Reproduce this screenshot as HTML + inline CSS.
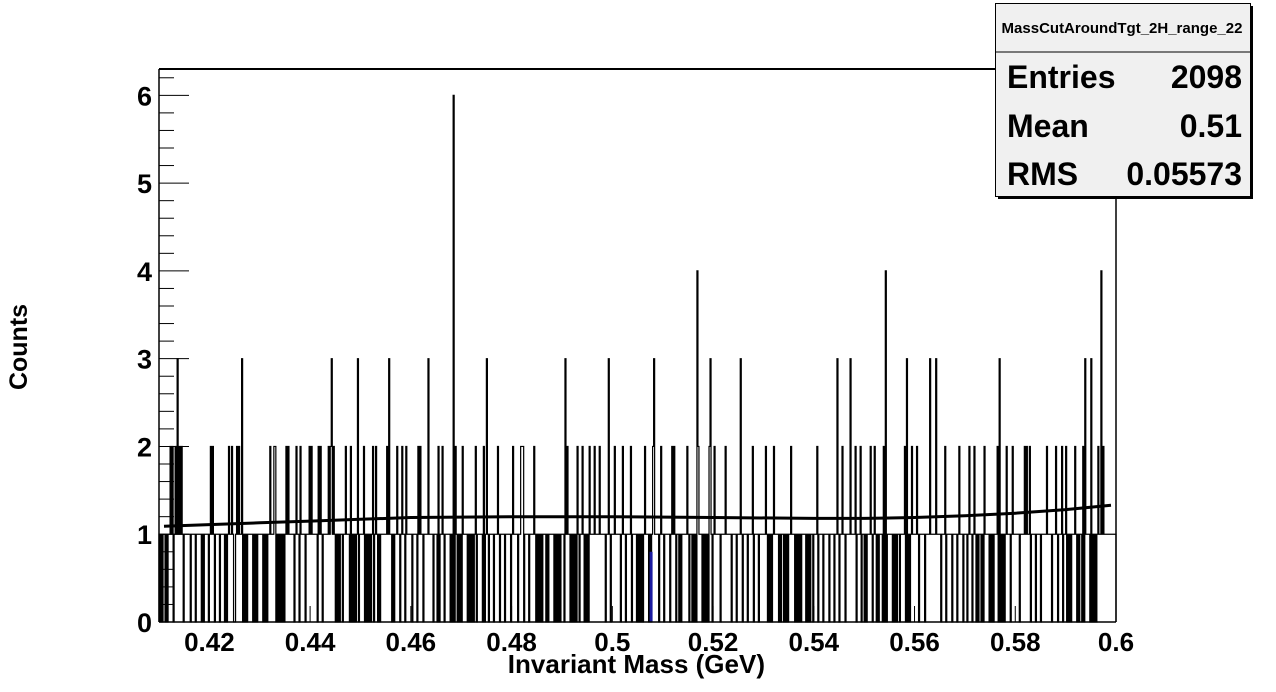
<!DOCTYPE html>
<html><head><meta charset="utf-8"><style>
html,body{margin:0;padding:0;background:#fff;}
svg{display:block;font-family:"Liberation Sans",Arial,sans-serif;font-weight:bold;}
</style></head><body>
<svg id="chart" width="1276" height="692" viewBox="0 0 1276 692" xmlns="http://www.w3.org/2000/svg">
<rect width="1276" height="692" fill="#fff"/>
<g id="hist"></g>
<g id="fit"></g>
<g id="axes"></g>
<text x="765" y="673" font-size="26" text-anchor="end">Invariant Mass (GeV)</text>
<text transform="translate(27,347) rotate(-90)" font-size="25" text-anchor="middle">Counts</text>
<g>
<rect x="998" y="6" width="255" height="193" fill="#000"/>
<rect x="995.5" y="3.5" width="255" height="193" fill="#f0f0f0" stroke="#000" stroke-width="1"/>
<line x1="995" y1="52" x2="1250" y2="52" stroke="#000" stroke-width="1"/>
<text x="1122" y="33" font-size="15" text-anchor="middle">MassCutAroundTgt_2H_range_22</text>
<text x="1007" y="88" font-size="32">Entries</text>
<text x="1242" y="88" font-size="32" text-anchor="end">2098</text>
<text x="1007" y="137" font-size="32">Mean</text>
<text x="1242" y="137" font-size="32" text-anchor="end">0.51</text>
<text x="1007" y="185" font-size="32">RMS</text>
<text x="1242" y="185" font-size="32" text-anchor="end">0.05573</text>
</g>
</svg>
<script>
const xMin = 0.41, xMax = 0.6, yMin = 0, yMax = 6.3;
const binWidth = 0.0002;
const baseCounts = [
"10101101011111010101011101111110111101111101011110",
"11111011110111101011111100101011101010111110101011",
"11101010110111110101010101010111110111101111101111",
"10111110111101111101101010101011011111101010101101",
"11110101010110111010111111011110101111101111011111",
"10111101111101111011110111010110101111101010110101",
"01111101010101101111101011101111011111011110111110",
"10111101111101111011110101010101110101111101010101",
"11011111010101011011110101011111011110111110111101",
"11011111011110111110111101010101011101010111110101",
"10111110101010110101111101011010101111101010101110",
"10111110111101111101111011111011110111110111101111",
"11110101010111101011010101111110101010111101010110",
"11110111101111101111011110111110111101111101111011",
"01011111010101011101010111110101011011111010101011",
"11110111110111101111101111011110111110111101111101",
"11011110101010110101111101010111101010101111101011",
"11110111101111101111011110111110111101111101111011",
"1010101111101011010111110101010111"
].join("");
const spikeMass = [0.4684,0.5168,0.5543,0.5972,
0.4136,0.4265,0.4443,0.4495,0.4557,0.4634,0.4751,0.4906,0.4993,0.5083,0.5196,0.5254,0.5256,0.5446,0.5472,0.5585,0.5631,0.5642,0.5769,0.5938,0.5950];
const spikeCount = [6,4,4,4,3,3,3,3,3,3,3,3,3,3,3,3,3,3,3,3,3,3,3,3,3];
const twoMass = [0.4122,0.4126,0.4132,0.4140,0.4144,0.4203,0.4207,0.4239,0.4245,0.4255,0.4259,0.4322,0.4328,0.4332,0.4352,0.4356,0.4372,0.4380,0.4398,0.4402,0.4416,0.4420,0.4436,0.4440,0.4447,0.4470,0.4480,0.4507,0.4525,0.4531,0.4552,0.4574,0.4582,0.4590,0.4614,0.4618,0.4654,0.4662,0.4689,0.4703,0.4729,0.4745,0.4773,0.4803,0.4819,0.4821,0.4823,0.4845,0.4910,0.4930,0.4940,0.4955,0.4965,0.4975,0.5005,0.5021,0.5037,0.5065,0.5081,0.5097,0.5118,0.5124,0.5148,0.5170,0.5192,0.5202,0.5226,0.5254,0.5278,0.5304,0.5320,0.5354,0.5408,0.5448,0.5456,0.5482,0.5492,0.5512,0.5520,0.5539,0.5581,0.5595,0.5605,0.5631,0.5661,0.5690,0.5710,0.5720,0.5740,0.5764,0.5769,0.5783,0.5795,0.5819,0.5823,0.5829,0.5863,0.5881,0.5893,0.5901,0.5918,0.5934,0.5964,0.5974];
const fitX = [0.411,0.42,0.43,0.44,0.45,0.46,0.48,0.50,0.52,0.54,0.55,0.56,0.57,0.58,0.59,0.599];
const fitY = [1.09,1.11,1.13,1.15,1.17,1.19,1.20,1.20,1.19,1.18,1.18,1.19,1.21,1.24,1.28,1.33];
const xTicks = [0.42,0.44,0.46,0.48,0.5,0.52,0.54,0.56,0.58,0.6];
const xTickLabels = ["0.42","0.44","0.46","0.48","0.5","0.52","0.54","0.56","0.58","0.6"];
const yTicks = [0,1,2,3,4,5,6];

const L=159,R=1116,T=69,B=622;
const sx = v => L + (v - xMin) / (xMax - xMin) * (R - L);
const sy = v => B - (v - yMin) / (yMax - yMin) * (B - T);
const NS="http://www.w3.org/2000/svg";
function mk(tag, attrs, parent){const e=document.createElementNS(NS,tag);for(const k in attrs)e.setAttribute(k,attrs[k]);parent.appendChild(e);return e;}

const nBins = Math.round((xMax - xMin) / binWidth);
const counts = [];
for(let i=0;i<nBins;i++) counts.push(i<baseCounts.length?+baseCounts[i]:1);
twoMass.forEach(m=>{const i=Math.floor((m-xMin)/binWidth); if(i>=0&&i<nBins) counts[i]=Math.max(counts[i],2);});
spikeMass.forEach((m,k)=>{const i=Math.floor((m-xMin)/binWidth); if(i>=0&&i<nBins) counts[i]=spikeCount[k];});

const hg=document.getElementById('hist');
let d="M"+sx(xMin)+","+sy(0);
for(let i=0;i<nBins;i++){
  const x0=sx(xMin+i*binWidth), x1=sx(xMin+(i+1)*binWidth), y=sy(counts[i]);
  d+=" L"+x0.toFixed(2)+","+y.toFixed(2)+" L"+x1.toFixed(2)+","+y.toFixed(2);
}
d+=" L"+sx(xMax)+","+sy(0);
const hp=mk('path',{d:d,fill:'none',stroke:'#000','stroke-width':1.2},hg);


const blue=mk('rect',{x:sx(0.5074),y:sy(0.8),width:3,height:sy(0)-sy(0.8),fill:'#1a1aa0'},hg);



const fg=document.getElementById('fit');
const fp=mk('polyline',{points:fitX.map((x,i)=>sx(x).toFixed(1)+","+sy(fitY[i]).toFixed(1)).join(" "),fill:'none',stroke:'#000','stroke-width':3},fg);



const ag=document.getElementById('axes');
mk('line',{x1:L,y1:T,x2:R,y2:T,stroke:'#000','stroke-width':2},ag);
mk('line',{x1:R,y1:T,x2:R,y2:B,stroke:'#000','stroke-width':1.5},ag);
mk('line',{x1:L,y1:T,x2:L,y2:B,stroke:'#000','stroke-width':1.5},ag);
mk('line',{x1:L,y1:B,x2:R,y2:B,stroke:'#000','stroke-width':1.5},ag);
for(let v=0; v<=6.2001; v+=0.2){
  const major=Math.abs(v-Math.round(v))<1e-6;
  mk('line',{x1:L,y1:sy(v),x2:L+(major?30:15),y2:sy(v),stroke:'#000','stroke-width':1},ag);
}
yTicks.forEach(v=>{
  const t=mk('text',{x:152,y:sy(v)+10,'font-size':27,'text-anchor':'end'},ag);
  t.textContent=String(v);
  
  
});
xTicks.forEach((v,i)=>{
  mk('line',{x1:sx(v),y1:B,x2:sx(v),y2:B-16,stroke:'#000','stroke-width':1},ag);
  const t=mk('text',{x:sx(v),y:651,'font-size':26,'text-anchor':'middle'},ag);
  t.textContent=xTickLabels[i];
  
  
});
</script>
</body></html>
